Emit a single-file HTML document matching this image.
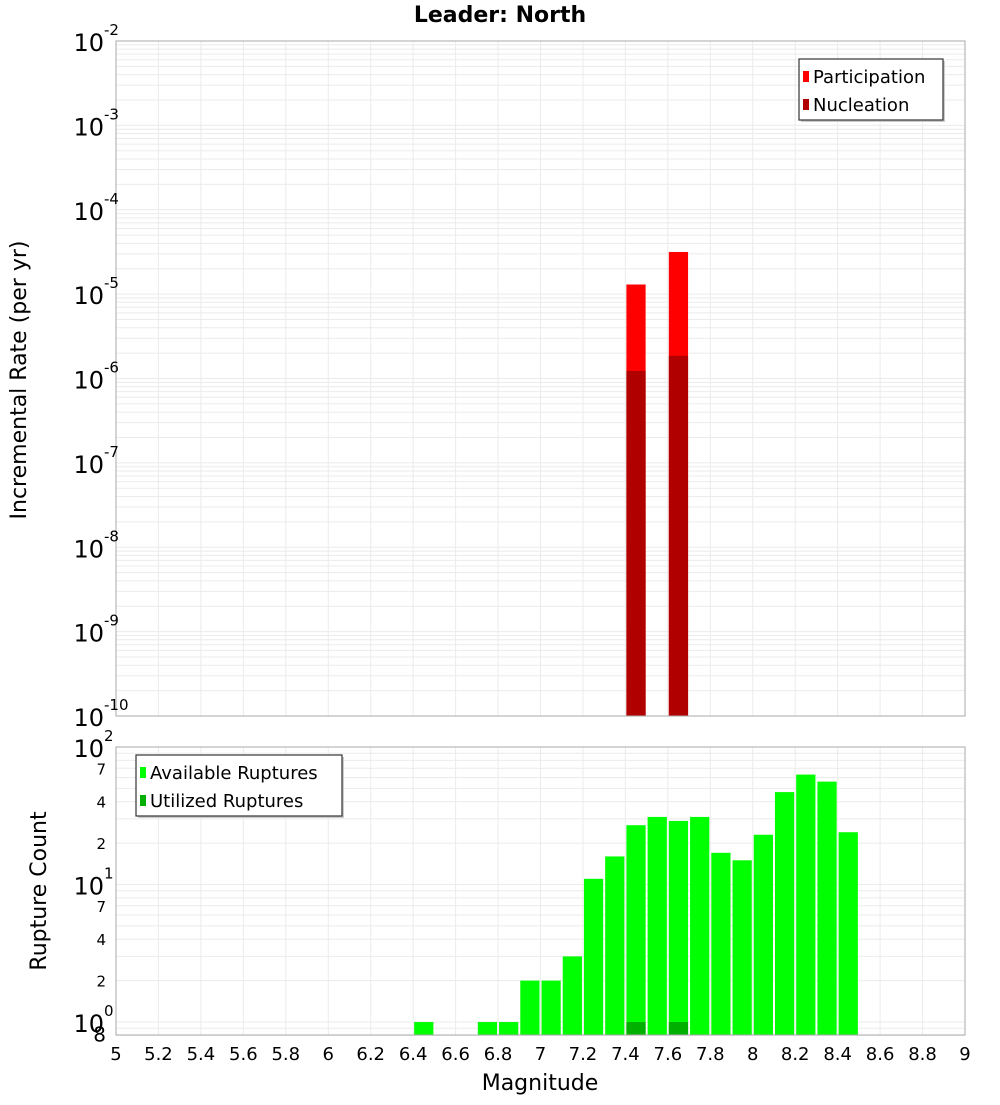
<!DOCTYPE html>
<html><head><meta charset="utf-8"><style>
body{margin:0;background:#fff;font-family:"Liberation Sans","DejaVu Sans",sans-serif}
svg text{font-family:"DejaVu Sans","Liberation Sans",sans-serif}
</style></head><body>
<svg id="c" width="1000" height="1100" xmlns="http://www.w3.org/2000/svg"></svg>
<script>
const topBins=[7.45,7.65];
const participation=[1.3e-5,3.16e-5];
const nucleation=[1.23e-6,1.86e-6];
const botBins=[6.45,6.75,6.85,6.95,7.05,7.15,7.25,7.35,7.45,7.55,7.65,7.75,7.85,7.95,8.05,8.15,8.25,8.35,8.45];
const available=[1,1,1,2,2,3,11,16,27,31,29,31,17,15,23,47,63,56,24];
const utilBins=[7.45,7.65];
const utilized=[1,1];
const xTicks=[5,5.2,5.4,5.6,5.8,6,6.2,6.4,6.6,6.8,7,7.2,7.4,7.6,7.8,8,8.2,8.4,8.6,8.8,9];
const topExp=[-2,-3,-4,-5,-6,-7,-8,-9,-10];

const S=document.getElementById('c');const NS='http://www.w3.org/2000/svg';
function el(t,a,p){const e=document.createElementNS(NS,t);for(const k in a)e.setAttribute(k,a[k]);(p||S).appendChild(e);return e;}
const X0=116,X1=965;
const x=v=>X0+(v-5)/4*(X1-X0);
const T0=41,T1=716;
const yT=v=>T0+(-2-Math.log10(v))/8*(T1-T0);
const B0=747,B1=1035,DEC=137.5;
const yB=v=>B0+(2-Math.log10(v))*DEC;

// frames background & grids
function grids(top,bot,yf,lo,hi){
  for(const t of xTicks){const g=el('line',{x1:x(t),x2:x(t),y1:top,y2:bot,stroke:'#ebebeb','stroke-width':1});}
  for(let e=lo;e<hi;e++)for(let m=1;m<10;m++){const v=m*Math.pow(10,e);const yy=yf(v);if(yy<top-0.5||yy>bot+0.5)continue;
    const g=el('line',{x1:X0,x2:X1,y1:yy,y2:yy,stroke:'#ebebeb','stroke-width':1});}
}
grids(T0,T1,yT,-10,-2);
grids(B0,B1,yB,-1,2);

// title
let t=el('text',{x:500,y:22,'text-anchor':'middle','font-size':22,'font-weight':'bold'});t.textContent='Leader: North';


// top bars
const bw=0.1*(X1-X0)/4;
topBins.forEach((b,i)=>{
  let r=el('rect',{x:x(b)-bw/2+1,y:yT(participation[i]),width:bw-2,height:T1-yT(participation[i]),fill:'#ff0000'});
  
  r=el('rect',{x:x(b)-bw/2+1,y:yT(nucleation[i]),width:bw-2,height:T1-yT(nucleation[i]),fill:'#b00000'});
  
});
// bottom bars
botBins.forEach((b,i)=>{
  const r=el('rect',{x:x(b)-bw/2+1,y:yB(available[i]),width:bw-2,height:B1-yB(available[i]),fill:'#00ff00'});
  
});
utilBins.forEach((b,i)=>{
  const r=el('rect',{x:x(b)-bw/2+1,y:yB(utilized[i]),width:bw-2,height:B1-yB(utilized[i]),fill:'#00b000'});
  
});
// frames
let f=el('rect',{x:X0,y:T0,width:X1-X0,height:T1-T0,fill:'none',stroke:'#aaa'});
f=el('rect',{x:X0,y:B0,width:X1-X0,height:B1-B0,fill:'none',stroke:'#aaa'});

// top y labels
topExp.forEach(e=>{const yy=yT(Math.pow(10,e));
  const tx=el('text',{x:104,y:yy+10,'text-anchor':'end','font-size':24});tx.textContent='10';
  
  const s=el('text',{x:104,y:yy-6,'font-size':15});s.textContent=String(e);
  
});
// bottom y labels
[2,1,0].forEach(e=>{const yy=yB(Math.pow(10,e));
  const tx=el('text',{x:104,y:yy+10,'text-anchor':'end','font-size':24});tx.textContent='10';
  
  const s=el('text',{x:104,y:yy-6,'font-size':15});s.textContent=String(e);
  
});
[[7,10],[4,10],[2,10],[7,1],[4,1],[2,1],[8,0.1]].forEach(([m,d])=>{const yy=yB(m*d);
  const tx=el('text',{x:106,y:yy+6,'text-anchor':'end','font-size':m==8?20:15});tx.textContent=String(m);
  });
// x labels
xTicks.forEach(v=>{const tx=el('text',{x:x(v),y:1060,'text-anchor':'middle','font-size':18});tx.textContent=String(v);
  });
// axis titles
t=el('text',{x:540,y:1090,'text-anchor':'middle','font-size':22});t.textContent='Magnitude';
t=el('text',{x:0,y:0,'text-anchor':'middle','font-size':22,transform:'translate(26,380) rotate(-90)'});t.textContent='Incremental Rate (per yr)';
t=el('text',{x:0,y:0,'text-anchor':'middle','font-size':22,transform:'translate(46,891) rotate(-90)'});t.textContent='Rupture Count';

// legends
function legend(lx,ly,w,items,name){
  const g=el('g',{});
  el('rect',{x:lx+2,y:ly+2,width:w,height:61,fill:'#ccc'},g);
  el('rect',{x:lx,y:ly,width:w,height:61,fill:'#fff',stroke:'#333','stroke-width':1.2},g);
  items.forEach(([c,l],i)=>{
    el('rect',{x:lx+4,y:ly+12+i*28,width:6,height:11,fill:c},g);
    const tx=el('text',{x:lx+14,y:ly+24+i*28,'font-size':18},g);tx.textContent=l;
  });
}
legend(799,59,144,[['#ff0000','Participation'],['#b00000','Nucleation']],'top-legend');
legend(136,755,206,[['#00ff00','Available Ruptures'],['#00b000','Utilized Ruptures']],'bottom-legend');
</script>
</body></html>
